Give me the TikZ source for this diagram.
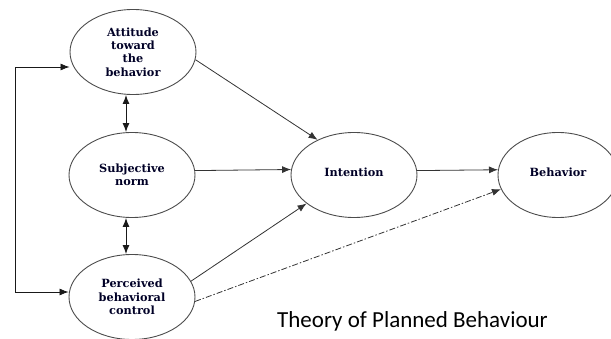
\documentclass[tikz,border=0pt]{standalone}
\usepackage{fontspec}
\newfontfamily\nodefont{DejaVu Serif}
\newfontfamily\titlefont{Carlito}
\usetikzlibrary{shapes.geometric,arrows.meta}
\begin{document}
\begin{tikzpicture}[x=1pt,y=-1pt,
  construct/.style={ellipse,draw=black!70,line width=0.9pt,inner sep=0pt,
    minimum width=126pt,minimum height=85pt,align=center,
    font=\nodefont\bfseries\fontsize{11.3}{13.3}\selectfont,text=black!85!blue},
  link/.style={draw=black!80,line width=0.8pt,-{Latex[length=9pt,width=7pt]}},
  twoway/.style={draw=black!90,line width=1pt,{Latex[length=9pt,width=7pt]}-{Latex[length=9pt,width=7pt]}},
  dashlink/.style={link,dash pattern=on 6pt off 2pt on 1.5pt off 2pt}]
\useasboundingbox (0,0) rectangle (611,339);
\node[construct] (att) at (133,52) {Attitude\\toward\\the\\behavior};
\node[construct] (sub) at (132,175) {Subjective\\norm};
\node[construct] (per) at (132,297) {Perceived\\behavioral\\control};
\node[construct] (int) at (354,175) {\raisebox{5pt}{Intention}};
\node[construct,minimum width=120pt] (beh) at (558,175) {\raisebox{6pt}{Behavior}};
\coordinate (lt) at (15,67);
\coordinate (lb) at (15,292);
\draw[twoway,line width=0.8pt] (att.west |- lt) -- (lt) -- (lb) -- (per.west |- lb);
\draw[twoway] ([xshift=-7pt]att.south) -- ([xshift=-6pt]sub.north);
\draw[twoway] ([xshift=-6pt]sub.south) -- ([xshift=-6pt]per.north);
\draw[link] (att.-7) -- (int.136);
\draw[link] (sub.4.5) -- (int.175.5);
\draw[link] (per.15) -- (int.211);
\draw[link] (int.4.5) -- (beh.175.2);
\draw[dashlink] (per.-4.5) -- (beh.194);
\node[font=\titlefont\fontsize{23}{26}\selectfont,anchor=base west,inner sep=0pt] (title) at (277,327) {Theory of Planned Behaviour};
\end{tikzpicture}
\end{document}
